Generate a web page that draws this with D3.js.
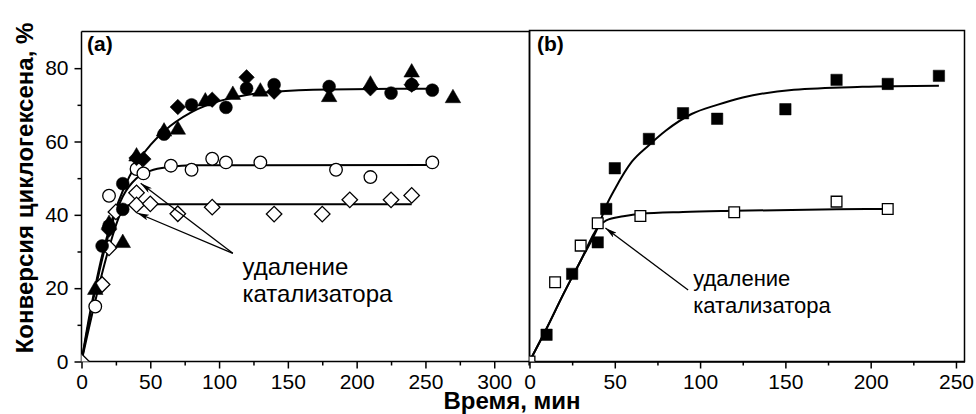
<!DOCTYPE html>
<html>
<head>
<meta charset="utf-8">
<script src="https://cdn.jsdelivr.net/npm/d3@7"></script>
<style>
  body { margin: 0; background: #fff; }
  svg { display: block; font-family: Arial, "Liberation Sans", sans-serif; }
  .axis path, .axis line { stroke: #000; stroke-width: 1.5; }
  .axis text { font-size: 21px; fill: #000; }
</style>
</head>
<body>
<svg width="976" height="414"></svg>
<script>
// panel (a): time, min / conversion, %
const aFilledCircle = [[15, 31.5], [20, 37], [30, 41.5], [30, 48.5], [60, 62], [80, 70], [105, 69.3], [120, 74.5], [140, 75.5], [180, 75], [225, 73.2], [240, 75.5], [255, 74]];
const aFilledDiamond = [[20, 36], [40, 55.5], [45, 55.2], [70, 69.4], [95, 71.4], [120, 77.5], [140, 73.6], [210, 74.5], [240, 75.5]];
const aFilledTriangle = [[10, 19.5], [20, 37.5], [30, 32.3], [40, 55.9], [60, 62.7], [70, 63.2], [90, 70.9], [110, 72.7], [130, 73.6], [180, 72.1], [210, 75.5], [240, 78.8], [270, 71.8]];
const aOpenCircle = [[10, 15], [20, 45.2], [40, 52.5], [45, 51.3], [65, 53.4], [80, 52.3], [95, 55.3], [105, 54.3], [130, 54.3], [185, 52.3], [210, 50.3], [255, 54.3]];
const aOpenDiamond = [[0, 0], [15, 21], [20, 31], [25, 40.8], [40, 46], [40, 42.7], [50, 43], [70, 40.3], [95, 42.1], [140, 40.2], [175, 40.2], [195, 44.1], [225, 44.1], [240, 45.3]];

const aFitMain = [[0, 0], [5, 11], [10, 20.5], [15, 29], [20, 36], [30, 46.5], [40, 54], [50, 59], [60, 62.8], [80, 68], [100, 71], [120, 72.7], [140, 73.6], [180, 74.2], [255, 74.4]];
const aFitOpenCircle = [[0, 0], [10, 19.5], [20, 35], [30, 45], [40, 50], [50, 52], [65, 53.1], [80, 53.5], [255, 53.6]];
const aFitOpenDiamond = [[0, 0], [10, 16.5], [20, 31], [30, 41.5], [35, 42.7], [45, 42.9], [240, 42.9]];

// panel (b)
const bFilledSquare = [[10, 7.3], [25, 23.9], [40, 32.5], [45, 41.6], [50, 52.7], [70, 60.7], [90, 67.7], [110, 66.2], [150, 68.8], [180, 76.8], [210, 75.7], [240, 77.9]];
const bOpenSquare = [[0, 0], [15, 21.6], [30, 31.6], [40, 37.7], [65, 39.7], [120, 40.7], [180, 43.6], [210, 41.6]];
const bFitFilled = [[0, 0], [10, 9], [20, 18.5], [30, 27.5], [40, 36.5], [45, 42.5], [50, 47], [60, 54.5], [70, 59], [80, 63], [95, 67.5], [110, 70], [125, 72], [155, 74.1], [195, 74.9], [240, 75.2]];
const bFitOpen = [[0, 0], [10, 9], [20, 18.5], [30, 27.5], [40, 36.5], [45, 38.5], [55, 39.6], [65, 40.3], [90, 40.8], [120, 41.1], [180, 41.5], [210, 41.6]];

const xTicksA = [0, 50, 100, 150, 200, 250, 300];
const xTicksB = [0, 50, 100, 150, 200, 250];
const yTicks = [0, 20, 40, 60, 80];

const noteText = ["удаление", "катализатора"];
const yTitle = "Конверсия циклогексена, %";
const xTitle = "Время, мин";

const svg = d3.select("svg");

const plotTop = 31.5, plotBottom = 361.5;
const y = d3.scaleLinear().domain([0, 90]).range([plotBottom, plotTop]);
const xA = d3.scaleLinear().domain([0, 326]).range([81.5, 530]);
const xB = d3.scaleLinear().domain([0, 255]).range([529.5, 964.5]);

const defs = svg.append("defs");
defs.append("clipPath").attr("id", "clipA")
  .append("rect").attr("x", xA(0)).attr("y", 0).attr("width", xA(326) - xA(0)).attr("height", plotBottom);
defs.append("clipPath").attr("id", "clipB")
  .append("rect").attr("x", xB(0)).attr("y", 0).attr("width", xB(255) - xB(0)).attr("height", plotBottom);
defs.append("marker")
  .attr("id", "arrow")
  .attr("viewBox", "0 0 12 6")
  .attr("refX", 12).attr("refY", 3)
  .attr("markerUnits", "userSpaceOnUse")
  .attr("markerWidth", 12).attr("markerHeight", 6)
  .attr("orient", "auto")
  .append("path").attr("d", "M0,0L12,3L0,6L3,3Z").attr("fill", "#000");

function minorOf(major, step) {
  return major.slice(0, -1).map((d) => d + step / 2);
}

// axes
function xAxis(scale, ticks, extraMinor) {
  const g = svg.append("g").attr("class", "axis").attr("transform", `translate(0,${plotBottom})`);
  g.call(d3.axisBottom(scale).tickValues(ticks).tickSize(7).tickPadding(6).tickSizeOuter(0));
  g.append("g")
    .call(d3.axisBottom(scale).tickValues(minorOf(ticks, 50).concat(extraMinor)).tickSize(4).tickFormat("").tickSizeOuter(0))
    .select(".domain").remove();
  return g;
}
xAxis(xA, xTicksA, [325]).select(".domain").attr("d", `M${xA(0)},0H${xB(0)}`);
xAxis(xB, xTicksB, []);

const gy = svg.append("g").attr("class", "axis").attr("transform", `translate(${xA(0)},0)`);
gy.call(d3.axisLeft(y).tickValues(yTicks).tickSize(7).tickPadding(6).tickSizeOuter(0));
gy.append("g")
  .call(d3.axisLeft(y).tickValues([10, 30, 50, 70]).tickSize(4).tickFormat("").tickSizeOuter(0))
  .select(".domain").remove();
gy.select(".domain").attr("d", `M0,${plotTop}V${plotBottom}`);

// frame lines
svg.append("path")
  .attr("d", `M${xA(0)},${plotTop}H${xB(0)}V${plotBottom}`)
  .attr("fill", "none").attr("stroke", "#000").attr("stroke-width", 1.5);
svg.append("rect")
  .attr("x", xB(0)).attr("y", plotTop - 1)
  .attr("width", xB(255) - xB(0)).attr("height", plotBottom - plotTop + 1)
  .attr("fill", "none").attr("stroke", "#000").attr("stroke-width", 1.5);

// plot layers
const pa = svg.append("g").attr("clip-path", "url(#clipA)");
const pb = svg.append("g").attr("clip-path", "url(#clipB)");

function fit(g, xs, data) {
  g.append("path")
    .datum(data)
    .attr("fill", "none").attr("stroke", "#000").attr("stroke-width", 2)
    .attr("d", d3.line().x((d) => xs(d[0])).y((d) => y(d[1])).curve(d3.curveMonotoneX));
}

function marks(g, xs, data, type, size, filled, rotate) {
  g.append("g").selectAll("path")
    .data(data)
    .join("path")
    .attr("transform", (d) => `translate(${xs(d[0])},${y(d[1])})` + (rotate ? " rotate(45)" : ""))
    .attr("d", d3.symbol().type(type).size(size))
    .attr("fill", filled ? "#000" : "#fff")
    .attr("stroke", "#000")
    .attr("stroke-width", filled ? 0.5 : 1.3);
}

fit(pa, xA, aFitOpenDiamond);
fit(pa, xA, aFitOpenCircle);
fit(pa, xA, aFitMain);
marks(pa, xA, aOpenDiamond, d3.symbolSquare, 120, false, true);
marks(pa, xA, aOpenCircle, d3.symbolCircle, 125, false);
marks(pa, xA, aFilledCircle, d3.symbolCircle, 130, true);
marks(pa, xA, aFilledDiamond, d3.symbolSquare, 120, true, true);
marks(pa, xA, aFilledTriangle, d3.symbolTriangle, 105, true);

fit(pb, xB, bFitOpen);
fit(pb, xB, bFitFilled);
marks(pb, xB, bFilledSquare, d3.symbolSquare, 130, true);
marks(pb, xB, bOpenSquare, d3.symbolSquare, 115, false);

// annotations
function arrow(xs, from, to) {
  svg.append("line")
    .attr("x1", xs(from[0])).attr("y1", y(from[1]))
    .attr("x2", xs(to[0])).attr("y2", y(to[1]))
    .attr("stroke", "#000").attr("stroke-width", 1.3)
    .attr("marker-end", "url(#arrow)");
}
arrow(xA, [110, 29.5], [43, 48.6]);
arrow(xA, [110, 29.5], [40.5, 40.5]);
arrow(xB, [93, 19.5], [44.5, 36.4]);

function note(x0, y0, size) {
  svg.append("text")
    .attr("x", x0).attr("y", y0)
    .attr("font-size", size)
    .selectAll("tspan")
    .data(noteText)
    .join("tspan")
    .attr("x", x0)
    .attr("dy", (d, i) => (i ? 27 : 0))
    .text((d) => d);
}
note(xA(117), y(23.5), 24);
note(xB(96), y(20.6), 22);

// panel labels and titles
svg.append("text").attr("x", 87).attr("y", 51).attr("font-size", 21).attr("font-weight", "bold").text("(a)");
svg.append("text").attr("x", 537).attr("y", 51).attr("font-size", 21).attr("font-weight", "bold").text("(b)");

svg.append("text")
  .attr("transform", "translate(33,188) rotate(-90)")
  .attr("text-anchor", "middle")
  .attr("font-size", 24).attr("font-weight", "bold")
  .text(yTitle);

svg.append("text")
  .attr("x", 512).attr("y", 409)
  .attr("text-anchor", "middle")
  .attr("font-size", 24).attr("font-weight", "bold")
  .text(xTitle);
</script>
</body>
</html>
